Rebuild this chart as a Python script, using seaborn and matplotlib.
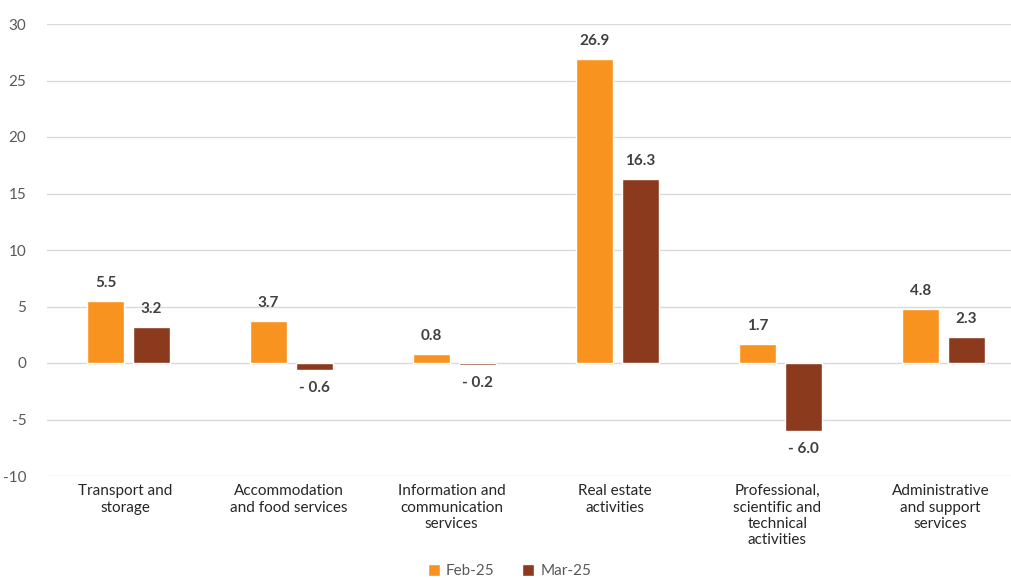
import pandas as pd
import matplotlib.pyplot as plt
import matplotlib.transforms as mtransforms
import seaborn as sns

# Data
categories = ["Transport and\nstorage", "Accommodation\nand food services",
              "Information and\ncommunication\nservices", "Real estate\nactivities",
              "Professional,\nscientific and\ntechnical\nactivities",
              "Administrative\nand support\nservices"]
feb_values = [5.5, 3.7, 0.8, 26.9, 1.7, 4.8]
mar_values = [3.2, -0.6, -0.2, 16.3, -6.0, 2.3]
series_names = ["Feb-25", "Mar-25"]

df = pd.DataFrame({
    "Category": categories * 2,
    "Value": feb_values + mar_values,
    "Series": [series_names[0]] * len(categories) + [series_names[1]] * len(categories),
})

sns.set_style("white")
plt.rcParams['font.family'] = ['Lato', 'DejaVu Sans']
plt.rcParams['axes.unicode_minus'] = False

fig = plt.figure(figsize=(10.11, 5.78), dpi=100)
# plot area runs past the right edge (reference chart is cropped there)
ax = fig.add_axes([47 / 1011, 1 - 476 / 578, 978 / 1011, 452 / 578])

palette = {"Feb-25": "#F7931E", "Mar-25": "#8B3A1E"}
sns.barplot(data=df, x="Category", y="Value", hue="Series", palette=palette,
            width=0.564, gap=0.195, ax=ax, saturation=1, zorder=3)

ax.set_ylim(-10, 30)
ax.set_yticks(range(-10, 31, 5))
ax.grid(axis='y', color='#d9d9d9', linewidth=1, zorder=0)
ax.set_axisbelow(True)
for s in ax.spines.values():
    s.set_visible(False)
ax.set_xlabel("")
ax.set_ylabel("")
ax.tick_params(axis='y', labelsize=11, labelcolor='#595959', length=0, pad=15)
ax.tick_params(axis='x', labelsize=11, labelcolor='#262626', length=0, pad=6)

# nudge category labels slightly left, like the original
offset = mtransforms.ScaledTranslation(-3 / 100, 0, fig.dpi_scale_trans)
for lbl in ax.get_xticklabels():
    lbl.set_transform(lbl.get_transform() + offset)

# Value labels
for container in ax.containers:
    for bar in container:
        v = bar.get_height()
        x = bar.get_x() + bar.get_width() / 2
        if v >= 0:
            ax.annotate(f"{v:.1f}", (x, v), xytext=(0, 8), textcoords='offset points',
                        ha='center', va='bottom', fontsize=11, fontweight='bold',
                        color='#404040')
        else:
            ax.annotate(f"- {abs(v):.1f}", (x, v), xytext=(0, -8), textcoords='offset points',
                        ha='center', va='top', fontsize=11, fontweight='bold',
                        color='#404040')

ax.legend(loc='center', bbox_to_anchor=(0.473, -0.21), ncol=2, frameon=False,
          fontsize=11, handlelength=0.8, handleheight=0.8, handletextpad=0.4,
          columnspacing=1.8, labelcolor='#595959')

fig.savefig("out.png", dpi=100)
